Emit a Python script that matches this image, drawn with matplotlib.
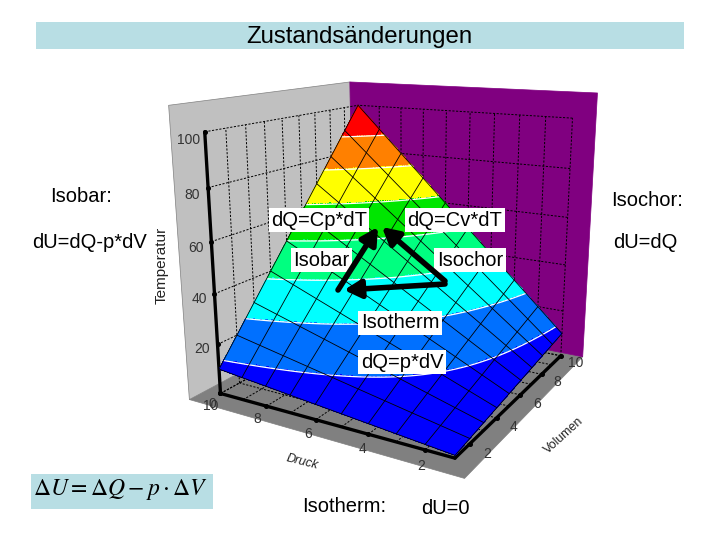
import numpy as np, matplotlib
matplotlib.use('Agg')
import matplotlib.pyplot as plt
from matplotlib.patches import Rectangle
from matplotlib.colors import to_rgba
from mpl_toolkits.mplot3d import proj3d
from mpl_toolkits.mplot3d.art3d import Poly3DCollection

# ---- data ---------------------------------------------------------------
druck = [1, 2, 3, 4, 5, 6, 7, 8, 9, 10]
volumen = [1, 2, 3, 4, 5, 6, 7, 8, 9, 10]
temperatur = [
    [1, 2, 3, 4, 5, 6, 7, 8, 9, 10],
    [2, 4, 6, 8, 10, 12, 14, 16, 18, 20],
    [3, 6, 9, 12, 15, 18, 21, 24, 27, 30],
    [4, 8, 12, 16, 20, 24, 28, 32, 36, 40],
    [5, 10, 15, 20, 25, 30, 35, 40, 45, 50],
    [6, 12, 18, 24, 30, 36, 42, 48, 54, 60],
    [7, 14, 21, 28, 35, 42, 49, 56, 63, 70],
    [8, 16, 24, 32, 40, 48, 56, 64, 72, 80],
    [9, 18, 27, 36, 45, 54, 63, 72, 81, 90],
    [10, 20, 30, 40, 50, 60, 70, 80, 90, 100],
]
band_levels = [12.5, 25, 37.5, 50, 62.5, 75, 87.5]
band_colors = ['#0000FF', '#0070FF', '#00FFFF', '#00FF80', '#00E600', '#FFFF00', '#FF8000', '#FF0000']
temp_ticks = [0, 20, 40, 60, 80, 100]
druck_ticks = [10, 8, 6, 4, 2]
vol_ticks = [2, 4, 6, 8, 10]

# ---- view -----------------------------------------------------------------
plt.rcParams['font.family'] = ['Liberation Sans', 'DejaVu Sans']
plt.rcParams['mathtext.fontset'] = 'stix'
VA, VB, PB, PA, TB, TT = 1.0686, 11.7854, 0.7267, 11.5702, -6.7071, 108.4975
W, H = 720, 540
S = 2681.70
TX, TY = 396.20, 243.31
side = 0.185 * S
left = TX - 0.095 * S
top = TY - 0.09 * S

fig = plt.figure(figsize=(7.2, 5.4), dpi=100, facecolor='white')
ax = fig.add_axes([left / W, 1 - (top + side) / H, side / W, side / H], projection='3d')
ax.set_axis_off()
ax.computed_zorder = False
ax.view_init(15.0246, -149.7847, 0.1848)
ax.set_proj_type('persp', focal_length=np.exp(-1.1249))
ax.set_box_aspect((np.exp(0.0342), np.exp(0.0426), 1))


def set_lims():
    ax.set_xlim3d(VA, VB)
    ax.set_ylim3d(PB, PA)
    ax.set_zlim3d(TB, TT)


set_lims()

# ---- walls -----------------------------------------------------------------
wall = lambda verts, col, ec: ax.add_collection3d(
    Poly3DCollection([verts], facecolors=col, edgecolors=ec, linewidths=0.5, zorder=1), autolim=False)
wall([(VA, PB, TB), (VB, PB, TB), (VB, PA, TB), (VA, PA, TB)], '#808080', '#808080')
wall([(VA, PA, TB), (VB, PA, TB), (VB, PA, TT), (VA, PA, TT)], '#C0C0C0', '#808080')
wall([(VB, PB, TB), (VB, PA, TB), (VB, PA, TT), (VB, PB, TT)], '#800080', '#800080')

# ---- wall gridlines --------------------------------------------------------
gs = dict(color='black', lw=0.7, ls=(0, (2.2, 1.6)), zorder=2)
vmin, vmax, pmin, pmax = volumen[0], volumen[-1], druck[0], druck[-1]
for t in temp_ticks:
    ax.plot([vmin, vmax], [pmax, pmax], [t, t], **gs)
    ax.plot([vmax, vmax], [pmin, pmax], [t, t], **gs)
for v in volumen:
    ax.plot([v, v], [pmax, pmax], [0, 100], **gs)
    ax.plot([v, v], [pmin, pmax], [0, 0], **gs)
for p in druck:
    ax.plot([vmax, vmax], [p, p], [0, 100], **gs)
    ax.plot([vmin, vmax], [p, p], [0, 0], **gs)

# ---- axis lines ------------------------------------------------------------
axs = dict(color='black', lw=2.4, solid_capstyle='round', zorder=3)
ax.plot([vmin, vmin], [pmax, pmax], [0, 100], **axs)
ax.plot([vmin, vmin], [pmin, pmax], [0, 0], **axs)
ax.plot([vmin, vmax], [pmin, pmin], [0, 0], **axs)
mk = dict(color='black', marker='o', ms=2.6, ls='none', zorder=3)
ax.plot([vmin] * len(temp_ticks), [pmax] * len(temp_ticks), temp_ticks, **mk)
ax.plot([vmin] * len(druck_ticks), druck_ticks, [0] * len(druck_ticks), **mk)
ax.plot(vol_ticks, [pmin] * len(vol_ticks), [0] * len(vol_ticks), **mk)

# ---- surface ---------------------------------------------------------------
tbl = np.array(temperatur, float)
fine = np.linspace(1, 10, 136)
tmp = np.array([np.interp(fine, volumen, row) for row in tbl])
TF = np.array([np.interp(fine, druck, col) for col in tmp.T]).T
VF, PF = np.meshgrid(fine, fine)
cols = np.array([to_rgba(c) for c in band_colors])
mid = TF.copy()
mid[:-1, :-1] = 0.25 * (TF[:-1, :-1] + TF[1:, :-1] + TF[:-1, 1:] + TF[1:, 1:])
fc = cols[np.digitize(mid, band_levels)]
ax.plot_surface(VF, PF, TF, facecolors=fc, rstride=1, cstride=1, shade=False,
                antialiased=False, linewidth=0, zorder=4)
ax.contour(VF, PF, TF, levels=band_levels, colors='white', linewidths=0.9, zorder=5)
for i, p in enumerate(druck):
    ax.plot(volumen, [p] * 10, tbl[i], color='black', lw=0.6, zorder=6)
for j, v in enumerate(volumen):
    ax.plot([v] * 10, druck, tbl[:, j], color='black', lw=0.6, zorder=6)
set_lims()

# ---- overlay: slide text and arrows ----------------------------------------
ov = fig.add_axes([0, 0, 1, 1], facecolor='none')
ov.set_xlim(0, W)
ov.set_ylim(H, 0)
ov.axis('off')
ax.apply_aspect()


def to_ov(v, p, t):
    """Place a 3D chart position on the 2D overlay via the 3D axes' projection."""
    x, y, _ = proj3d.proj_transform(v, p, t, ax.get_proj())
    return ov.transData.inverted().transform(ax.transData.transform((x, y)))


tk = dict(fontsize=10, color='#333333', ha='center', va='center', zorder=3)
for t in temp_ticks[1:]:
    ov.text(*to_ov(vmin, pmax + 0.7, t - 3.5), str(t), **tk)
ov.text(*to_ov(vmin, pmax + 0.42, -5.5), '0', **tk)
for p in druck_ticks:
    ov.text(*to_ov(vmin - 0.9, p - 0.35, 0), str(p), **tk)
for v in vol_ticks:
    ov.text(*to_ov(v, pmin - 0.6, -2), str(v), **tk)

light = '#B8DEE4'
ov.add_patch(Rectangle((36, 22), 648, 27, fc=light, ec='none'))
ov.add_patch(Rectangle((31, 474), 182, 35, fc=light, ec='none'))
ov.text(359.5, 37, 'Zustandsänderungen', fontsize=17.3, ha='center', va='center', color='black')
ov.text(121, 490, r'$\Delta U = \Delta Q - p \cdot \Delta V$', fontsize=17, ha='center', va='center', color='black')

plain = [('Isobar:', 50, 197, 'left'), ('dU=dQ-p*dV', 32, 243, 'left'),
         ('Isochor:', 683, 200, 'right'), ('dU=dQ', 677, 243, 'right'),
         ('Isotherm:', 344, 506, 'center'), ('dU=0', 445, 508, 'center')]
for s, x, y, ha in plain:
    ov.text(x, y, s, fontsize=14.5, ha=ha, va='center', color='black')

boxed = [('dQ=Cp*dT', 319, 220), ('Isobar', 321.5, 260), ('dQ=Cv*dT', 455, 220),
         ('Isochor', 470, 260), ('Isotherm', 400, 323), ('dQ=p*dV', 402, 362)]
for s, x, y in boxed:
    ov.text(x, y, s, fontsize=14.5, ha='center', va='center', color='black', zorder=6,
            bbox=dict(fc='white', ec='none', pad=1.8))

arrows = [((338, 290), (378, 227)), ((445, 281), (382, 227)), ((445, 284), (344, 290))]
for a, b in arrows:
    ov.annotate('', xy=b, xytext=a, zorder=7,
                arrowprops=dict(arrowstyle='-|>,head_length=0.55,head_width=0.3', lw=4, color='black',
                                mutation_scale=18, shrinkA=0, shrinkB=0))

ov.text(162, 265, 'Temperatur', fontsize=11, rotation=90, ha='center', va='center', color='#222222')
ov.text(302, 462, 'Druck', fontsize=9, rotation=-14, ha='center', va='center', color='#222222', style='italic')
ov.text(564, 436, 'Volumen', fontsize=9, rotation=42, ha='center', va='center', color='#222222')

fig.savefig('out.png', dpi=100)
